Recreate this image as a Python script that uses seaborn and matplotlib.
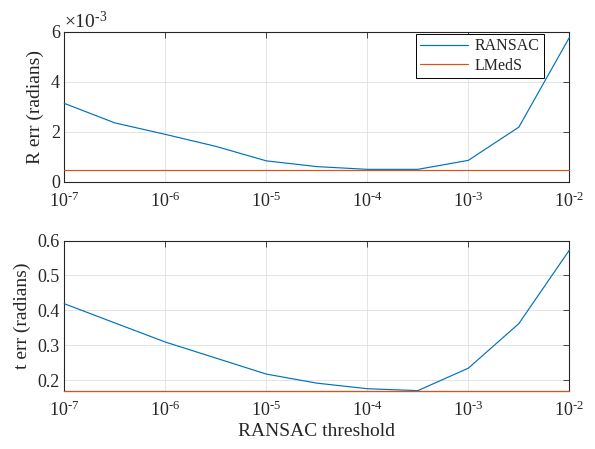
import numpy as np
import pandas as pd
import matplotlib
matplotlib.use("Agg")
import matplotlib.pyplot as plt
import seaborn as sns
from matplotlib.ticker import FuncFormatter, FixedLocator, FixedFormatter, NullLocator

# ---- data ----
thresholds = [1e-7, 3.16e-7, 1e-6, 3.16e-6, 1e-5, 3.16e-5, 1e-4, 3.16e-4, 1e-3, 3.16e-3, 1e-2]
r_ransac = [3.14e-3, 2.36e-3, 1.90e-3, 1.42e-3, 0.84e-3, 0.61e-3, 0.50e-3, 0.50e-3, 0.86e-3, 2.19e-3, 5.78e-3]
r_lmeds = [0.47e-3] * len(thresholds)
t_ransac = [0.419, 0.364, 0.309, 0.263, 0.217, 0.191, 0.175, 0.1695, 0.234, 0.362, 0.573]
t_lmeds = [0.1695] * len(thresholds)
series_names = ["RANSAC", "LMedS"]
xtick_vals = [1e-7, 1e-6, 1e-5, 1e-4, 1e-3, 1e-2]
xtick_labels = [r"$10^{\text{-}7}$", r"$10^{\text{-}6}$", r"$10^{\text{-}5}$",
                r"$10^{\text{-}4}$", r"$10^{\text{-}3}$", r"$10^{\text{-}2}$"]
r_yticks = [0, 2e-3, 4e-3, 6e-3]
r_scale_label = r"$\times10^{\text{-}3}$"
t_yticks = [0.2, 0.3, 0.4, 0.5, 0.6]
t_ytick_labels = ["0.2", "0.3", "0.4", "0.5", "0.6"]

df_r = pd.DataFrame({
    "x": thresholds * 2,
    "y": r_ransac + r_lmeds,
    "method": [series_names[0]] * len(thresholds) + [series_names[1]] * len(thresholds),
})
df_t = pd.DataFrame({
    "x": thresholds * 2,
    "y": t_ransac + t_lmeds,
    "method": [series_names[0]] * len(thresholds) + [series_names[1]] * len(thresholds),
})

sns.set_style("white")
plt.rcParams["font.family"] = ["Liberation Serif", "DejaVu Serif"]
plt.rcParams["mathtext.fontset"] = "custom"
plt.rcParams["mathtext.rm"] = "Liberation Serif"
plt.rcParams["mathtext.it"] = "Liberation Serif:italic"
plt.rcParams["mathtext.default"] = "regular"
plt.rcParams["axes.unicode_minus"] = False

palette = {"RANSAC": "#0072BD", "LMedS": "#D95319"}
fs_tick = 13
fs_lab = 14
fs_leg = 11.5
axcol = "#262626"
lw = 0.85

fig = plt.figure(figsize=(5.95, 4.49), dpi=100)
ax1 = fig.add_axes([0.108, 0.595, 0.849, 0.334])
ax2 = fig.add_axes([0.108, 0.130, 0.849, 0.334])


def style(ax):
    ax.set_xscale("log")
    ax.set_xlim(1e-7, 1e-2)
    ax.xaxis.set_major_locator(FixedLocator(xtick_vals))
    ax.xaxis.set_major_formatter(FixedFormatter(xtick_labels))
    ax.xaxis.set_minor_locator(NullLocator())
    ax.yaxis.set_minor_locator(NullLocator())
    ax.grid(True, color="#dfdfdf", linewidth=0.6)
    ax.set_axisbelow(True)
    for s in ax.spines.values():
        s.set_color(axcol)
        s.set_linewidth(0.8)
        s.set_visible(True)
    ax.tick_params(direction="in", length=4, width=0.6, colors=axcol,
                   labelsize=fs_tick, top=True, right=True, labelcolor=axcol)
    ax.tick_params(axis="x", pad=7)
    ax.tick_params(axis="y", pad=3)
    for ln in ax.get_lines():
        ln.set_zorder(3)
        ln.set_clip_on(False)


sns.lineplot(data=df_r, x="x", y="y", hue="method", palette=palette, ax=ax1,
             linewidth=lw, legend=True)
style(ax1)
ax1.set_ylim(0, 6e-3)
ax1.set_yticks(r_yticks)
ax1.yaxis.set_major_formatter(FuncFormatter(lambda v, p: f"{v * 1e3:g}"))
ax1.text(0.0, 1.0, r_scale_label, transform=ax1.transAxes, fontsize=14,
         color=axcol, ha="left", va="bottom")
ax1.set_xlabel("")
ax1.set_ylabel("R err (radians)", fontsize=fs_lab, color=axcol, labelpad=5)
leg = ax1.legend(loc="upper right", bbox_to_anchor=(0.9505, 0.989), fontsize=fs_leg,
                 frameon=True, fancybox=False, edgecolor="black", framealpha=1,
                 handlelength=3.0, borderpad=0.3, labelspacing=0.2, handletextpad=0.4,
                 borderaxespad=0)
leg.get_frame().set_linewidth(0.7)
for h in leg.get_lines():
    h.set_linewidth(lw)

sns.lineplot(data=df_t, x="x", y="y", hue="method", palette=palette, ax=ax2,
             linewidth=lw, legend=False)
style(ax2)
ax2.set_ylim(0.1695, 0.6)
ax2.set_yticks(t_yticks)
ax2.set_yticklabels(t_ytick_labels)
ax2.set_xlabel("RANSAC threshold", fontsize=fs_lab, color=axcol, labelpad=2)
ax2.set_ylabel("t err (radians)", fontsize=fs_lab, color=axcol, labelpad=5)

fig.savefig("out.png", dpi=100)
